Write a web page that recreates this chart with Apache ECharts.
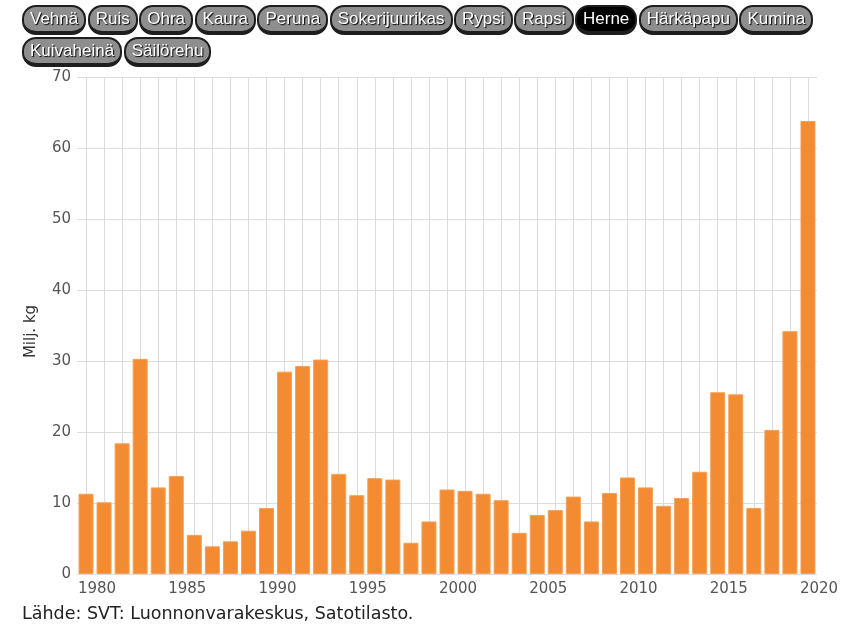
<!DOCTYPE html>
<html>
<head>
<meta charset="utf-8">
<script src="https://cdn.jsdelivr.net/npm/echarts@6/dist/echarts.min.js"></script>
<style>
  html, body { margin: 0; padding: 0; background: #fff; }
  #chart { position: absolute; left: 0; top: 0; width: 857px; height: 624px; }
  #buttons { position: absolute; left: 22px; top: 5px; width: 800px; z-index: 2; line-height: 0; }
  .btn {
    display: inline-block; box-sizing: border-box; height: 30px; margin: 0 1.5px 2px 0;
    padding: 0 6px; border: 2px solid #1e1e1e; border-bottom-width: 4px; border-radius: 14px;
    background: #8e8e8e; color: #fff; font-family: "Liberation Sans", Arial, sans-serif;
    font-size: 17px; line-height: 23px; text-shadow: 1px 1px 1px #000; vertical-align: top;
  }
  .btn.active { background: #000; }
</style>
</head>
<body>
<div id="buttons"></div>
<div id="chart"></div>
<script>
const buttonLabels = ["Vehnä","Ruis","Ohra","Kaura","Peruna","Sokerijuurikas","Rypsi","Rapsi","Herne","Härkäpapu","Kumina","Kuivaheinä","Säilörehu"];
const activeButton = "Herne";
const years = ["1980","1981","1982","1983","1984","1985","1986","1987","1988","1989",
  "1990","1991","1992","1993","1994","1995","1996","1997","1998","1999",
  "2000","2001","2002","2003","2004","2005","2006","2007","2008","2009",
  "2010","2011","2012","2013","2014","2015","2016","2017","2018","2019","2020"];
const herneValues = [11.3,10.1,18.4,30.3,12.2,13.8,5.5,3.9,4.6,6.1,
  9.3,28.5,29.3,30.2,14.1,11.1,13.5,13.3,4.4,7.4,
  11.9,11.7,11.3,10.4,5.8,8.3,9.0,10.9,7.4,11.4,
  13.6,12.2,9.6,10.7,14.4,25.6,25.3,9.3,20.3,34.2,63.8];
const yTicks = [0,10,20,30,40,50,60,70];
const yAxisTitle = "Milj. kg";
const sourceText = "Lähde: SVT: Luonnonvarakeskus, Satotilasto.";

const bc = document.getElementById('buttons');
buttonLabels.forEach(function (t) {
  const b = document.createElement('span');
  b.className = 'btn' + (t === activeButton ? ' active' : '');
  b.textContent = t;
  bc.appendChild(b);
});

const chart = echarts.init(document.getElementById('chart'), null, { renderer: 'canvas' });
chart.setOption({
  animation: false,
  title: {
    text: sourceText, left: 17, top: 600,
    textStyle: { fontFamily: 'DejaVu Sans', fontSize: 17.5, fontWeight: 'normal', color: '#222' }
  },
  grid: { left: 77, right: 40, top: 77, bottom: 50 },
  xAxis: {
    type: 'category', data: years, boundaryGap: true,
    axisLine: { show: false }, axisTick: { show: false },
    axisLabel: {
      interval: 4, margin: 8, padding: [0, 0, 0, 22],
      fontFamily: 'DejaVu Sans', fontSize: 15, color: '#555'
    },
    splitLine: { show: true, interval: 0, alignWithLabel: true, lineStyle: { color: '#dcdcdc', width: 1 } }
  },
  yAxis: {
    type: 'value', min: yTicks[0], max: yTicks[yTicks.length - 1], interval: 10,
    name: yAxisTitle, nameLocation: 'middle', nameGap: 38,
    nameTextStyle: { fontFamily: 'DejaVu Sans', fontSize: 15, color: '#333', padding: [0, 12, 0, 0] },
    axisLine: { show: false }, axisTick: { show: false },
    axisLabel: { margin: 6, fontFamily: 'DejaVu Sans', fontSize: 15, color: '#555' },
    splitLine: { show: true, lineStyle: { color: '#dcdcdc', width: 1 } }
  },
  series: [{
    type: 'bar', data: herneValues, barWidth: 15,
    itemStyle: { color: '#f28b31', borderColor: '#f5a059', borderWidth: 1 }
  }]
});
</script>
</body>
</html>
